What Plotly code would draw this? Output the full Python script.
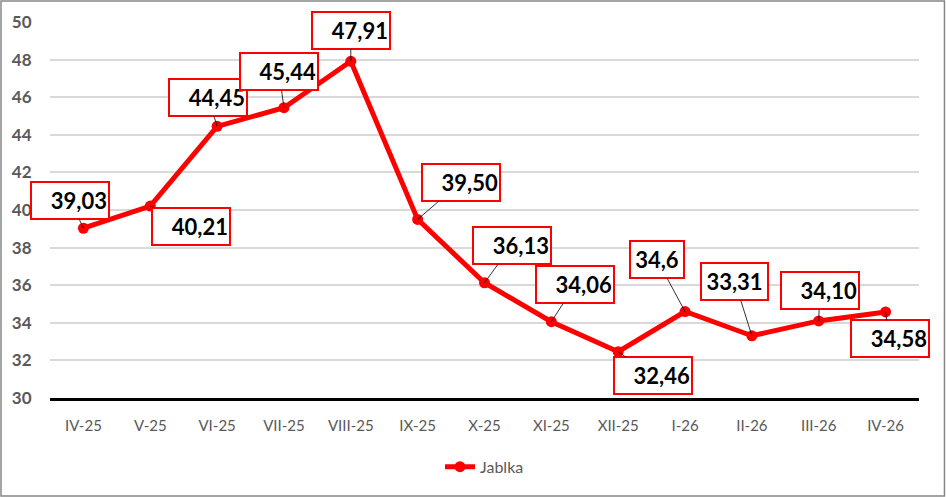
import plotly.graph_objects as go

categories = ["IV-25", "V-25", "VI-25", "VII-25", "VIII-25", "IX-25", "X-25",
              "XI-25", "XII-25", "I-26", "II-26", "III-26", "IV-26"]
values = [39.03, 40.21, 44.45, 45.44, 47.91, 39.50, 36.13, 34.06, 32.46, 34.6, 33.31, 34.10, 34.58]
labels = ["39,03", "40,21", "44,45", "45,44", "47,91", "39,50", "36,13",
          "34,06", "32,46", "34,6", "33,31", "34,10", "34,58"]
# label box offsets (pixels) relative to point, and box widths
offsets = [(-13, -28), (41, 20), (-9, -29), (-5, -36), (0, -31), (43, -37), (27, -37),
           (24, -37), (35, 24), (-28, -52), (-17, -54), (1, -30), (4, 27)]
box_widths = [74, 74, 74, 74, 74, 74, 74, 74, 74, 50, 63, 74, 74]
box_align = ["right"] * 9 + ["center", "center", "right", "right"]

fig = go.Figure()
fig.add_trace(go.Scatter(
    x=categories, y=values, mode="lines+markers", name="Jablka",
    line=dict(color="#ff0000", width=5),
    marker=dict(color="#ff0000", size=11),
))

for c, v, t, (dx, dy), w, al in zip(categories, values, labels, offsets, box_widths, box_align):
    fig.add_annotation(
        x=c, y=v, text="<b>%s</b>" % t, showarrow=True, ax=dx, ay=dy,
        arrowhead=0, arrowwidth=0.8, arrowcolor="#000000", standoff=0,
        font=dict(family="Lato, sans-serif", size=22, color="#000000"),
        bgcolor="#ffffff", bordercolor="#ff0000", borderwidth=2, borderpad=1,
        width=w, height=33, align=al,
    )

fig.add_shape(type="rect", xref="paper", yref="paper",
              x0=-0.0564, x1=1.0293, y0=-0.2606, y1=1.0559,
              line=dict(color="#878787", width=1.5), layer="below")

fig.update_layout(
    width=946, height=497,
    margin=dict(l=50, r=27, t=22, b=99),
    paper_bgcolor="#ffffff", plot_bgcolor="#ffffff",
    showlegend=True,
    legend=dict(orientation="h", x=0.5, xanchor="center", y=-0.183, yanchor="middle",
                font=dict(family="Lato, sans-serif", size=16, color="#595959")),
    xaxis=dict(
        type="category", showgrid=False, showline=True, linecolor="#000000", linewidth=3,
        ticks="outside", ticklen=12, tickcolor="rgba(0,0,0,0)",
        tickfont=dict(family="Lato, sans-serif", size=15, color="#595959"),
        range=[-0.5, 12.5],
    ),
    yaxis=dict(
        range=[30, 50], dtick=2, showgrid=True, gridcolor="#d9d9d9", gridwidth=1.5,
        zeroline=False, showline=False,
        ticks="outside", ticklen=14, tickcolor="rgba(0,0,0,0)",
        tickfont=dict(family="Lato, sans-serif", size=17, color="#595959", weight="bold"),
    ),
)

fig.write_html("out.html")
